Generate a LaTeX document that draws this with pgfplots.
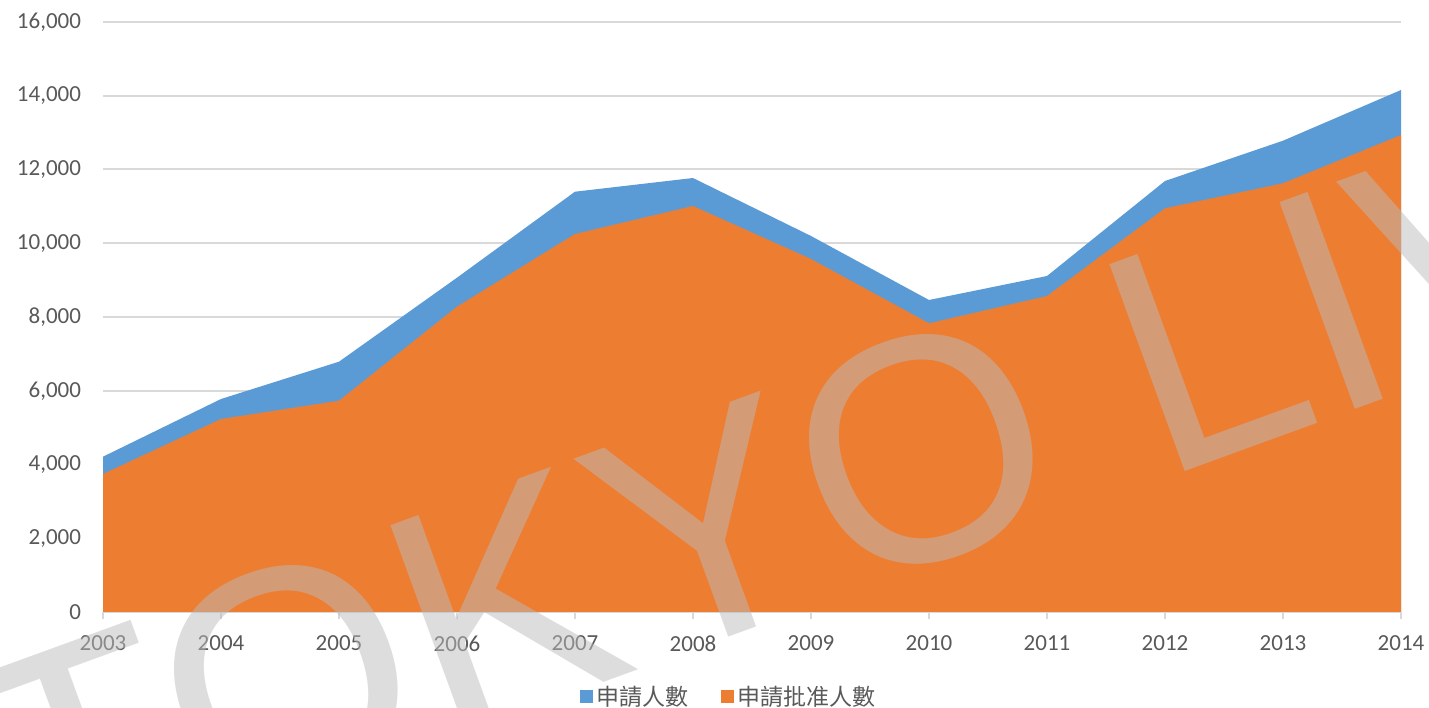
\documentclass[border=0pt]{standalone}
\usepackage{pgfplots}
\pgfplotsset{compat=1.18}
\usepackage{fontspec}
\setmainfont{Carlito}
\newfontfamily\cjk{Noto Sans CJK TC}
\newfontfamily\wm{Liberation Sans}
\definecolor{sblue}{HTML}{5B9BD5}
\definecolor{sorange}{HTML}{ED7D31}
\definecolor{gridgray}{HTML}{D9D9D9}
\definecolor{txtgray}{HTML}{595959}
\definecolor{wmgray}{RGB}{187,187,187}
\begin{document}
\begin{tikzpicture}
\useasboundingbox (0,0) rectangle (714.5bp,354bp);
\begin{axis}[
  at={(51.5bp,48bp)}, anchor=south west,
  width=649bp, height=295bp, scale only axis,
  xmin=2003, xmax=2014, ymin=0, ymax=16000,
  xtick={2003,2004,2005,2006,2007,2008,2009,2010,2011,2012,2013,2014},
  xticklabels={2003,2004,2005,2006,2007,2008,2009,2010,2011,2012,2013,2014},
  ytick={0,2000,4000,6000,8000,10000,12000,14000,16000},
  /pgf/number format/assume math mode=true,
  /pgf/number format/1000 sep={,},
  scaled y ticks=false,
  axis lines*=left,
  x axis line style={gridgray, line width=1bp},
  y axis line style={draw=none},
  tick align=outside,
  major tick length=3.5bp,
  xtick style={gridgray, line width=1bp},
  ytick style={draw=none},
  ymajorgrids,
  grid style={gridgray, line width=1bp},
  tick label style={font=\fontsize{11.5bp}{13bp}\selectfont, text=txtgray},
  yticklabel style={xshift=-4bp},
  xticklabel style={yshift=-5bp},
  legend style={at={(0.483,-0.144)}, anchor=center, draw=none, fill=none,
    legend columns=-1, font=\cjk\fontsize{11.5bp}{13bp}\selectfont, text=txtgray,
    /tikz/every even column/.append style={column sep=14bp}},
  legend image code/.code={\path[#1] (0bp,-3.25bp) rectangle (6.5bp,3.25bp);},
]
\addplot[fill=sblue, draw=none] coordinates {
 (2003,4212) (2004,5776) (2005,6788) (2006,9066) (2007,11398) (2008,11769)
 (2009,10197) (2010,8461) (2011,9112) (2012,11688) (2013,12781) (2014,14156)
} \closedcycle;
\addlegendentry{申請人數}
\addplot[fill=sorange, draw=none] coordinates {
 (2003,3742) (2004,5234) (2005,5730) (2006,8280) (2007,10251) (2008,11010)
 (2009,9573) (2010,7829) (2011,8569) (2012,10948) (2013,11626) (2014,12936)
} \closedcycle;
\addlegendentry{申請批准人數}
\end{axis}
\begin{scope}
\clip (0,0) rectangle (714.5bp,354bp);
\node[anchor=base west, rotate=20, inner sep=0pt, text=wmgray, text opacity=0.5,
  font=\wm\fontsize{160bp}{160bp}\selectfont] at (14.5bp,-92bp) {TOKYO LIVING};
\end{scope}
\end{tikzpicture}
\end{document}
